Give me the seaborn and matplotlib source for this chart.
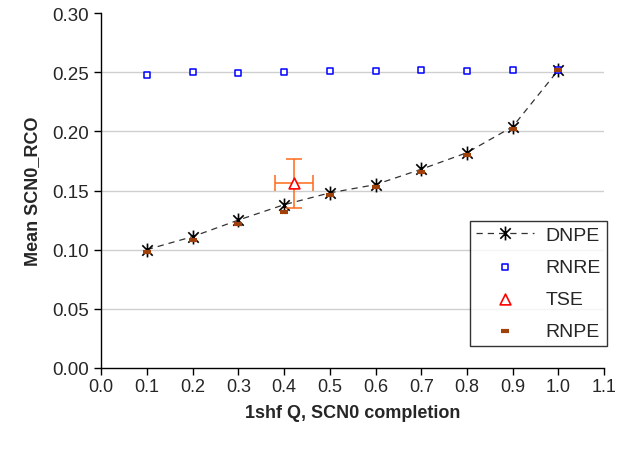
import numpy as np
import pandas as pd
import matplotlib
matplotlib.use("Agg")
import matplotlib.pyplot as plt
from matplotlib.path import Path
import seaborn as sns

# Completion fraction and mean SCN0_RCO per method
completion = [0.1, 0.2, 0.3, 0.4, 0.5, 0.6, 0.7, 0.8, 0.9, 1.0]
dnpe = [0.100, 0.111, 0.125, 0.138, 0.148, 0.155, 0.168, 0.182, 0.204, 0.252]
rnre = [0.248, 0.250, 0.249, 0.250, 0.251, 0.251, 0.252, 0.251, 0.252, 0.252]
rnpe = [0.098, 0.108, 0.122, 0.132, 0.146, 0.153, 0.166, 0.180, 0.202, 0.252]

# Single TSE estimate with error bars
tse_x = [0.422]
tse_y = [0.156]
tse_xerr = [0.042]
tse_yerr = [0.021]

x_ticks = [0.0, 0.1, 0.2, 0.3, 0.4, 0.5, 0.6, 0.7, 0.8, 0.9, 1.0, 1.1]
y_ticks = [0.00, 0.05, 0.10, 0.15, 0.20, 0.25, 0.30]

sns.set_style("white")
plt.rcParams["font.family"] = ["Liberation Sans", "DejaVu Sans"]

# Asterisk marker: vertical stroke plus an X
asterisk = Path(
    [(0, -1), (0, 1), (-0.75, -0.75), (0.75, 0.75), (-0.75, 0.75), (0.75, -0.75)],
    [Path.MOVETO, Path.LINETO, Path.MOVETO, Path.LINETO, Path.MOVETO, Path.LINETO],
)

df = pd.DataFrame({"x": completion, "DNPE": dnpe, "RNRE": rnre, "RNPE": rnpe})

fig = plt.figure(figsize=(6.32, 4.56), dpi=100)
ax = fig.add_axes([0.160, 0.191, 0.796, 0.778])

for yv in y_ticks[1:-1]:
    ax.axhline(yv, color="#cfcfcf", lw=1.0, zorder=0)

sns.lineplot(data=df, x="x", y="DNPE", ax=ax, color="#333333", lw=0.9,
             linestyle=(0, (5, 4)), marker=asterisk, markersize=10,
             markeredgecolor="black", markeredgewidth=1.2, label="DNPE", zorder=3)
sns.scatterplot(data=df, x="x", y="RNRE", ax=ax, marker="s", s=24,
                facecolor="white", edgecolor="#0000ff", linewidth=1.1,
                label="RNRE", zorder=4)
ax.errorbar(tse_x, tse_y, xerr=tse_xerr, yerr=tse_yerr, fmt="none",
            ecolor="#ff6a1a", elinewidth=1.1, capsize=6, capthick=1.1, zorder=4)
sns.scatterplot(x=tse_x, y=tse_y, ax=ax, marker="^", s=60,
                facecolor="white", edgecolor="#ff0000", linewidth=1.2,
                label="TSE", zorder=5)
sns.scatterplot(data=df, x="x", y="RNPE", ax=ax, marker="_", s=30,
                color="#a0400a", linewidth=3, label="RNPE", zorder=6)

ax.set_xlim(0, 1.1)
ax.set_ylim(0, 0.30)
ax.set_xticks(x_ticks)
ax.set_yticks(y_ticks)
ax.set_xticklabels([f"{v:.1f}" for v in x_ticks], fontsize=13)
ax.set_yticklabels([f"{v:.2f}" for v in y_ticks], fontsize=13.5)
ax.tick_params(axis="x", direction="out", length=5, width=1, color="black",
               bottom=True, pad=2)
ax.tick_params(axis="y", direction="out", length=5, width=1, color="black",
               left=True, pad=4)

for side in ["top", "right"]:
    ax.spines[side].set_visible(False)
for side in ["left", "bottom"]:
    ax.spines[side].set_color("black")
    ax.spines[side].set_linewidth(1.0)

ax.set_xlabel("1shf Q, SCN0 completion", fontsize=13, fontweight="bold", labelpad=7)
ax.set_ylabel("Mean SCN0_RCO", fontsize=13, fontweight="bold", labelpad=8)

leg = ax.legend(loc="lower left", bbox_to_anchor=(0.733, 0.062, 0.273, 0.358),
                mode="expand", fontsize=14, frameon=True, fancybox=False,
                edgecolor="black", handlelength=3.0, handletextpad=0.6,
                labelspacing=0.74, borderaxespad=0, borderpad=0.3)
leg.get_frame().set_linewidth(1.0)
leg.set_zorder(10)

fig.savefig("out.png", dpi=100, facecolor="white")
